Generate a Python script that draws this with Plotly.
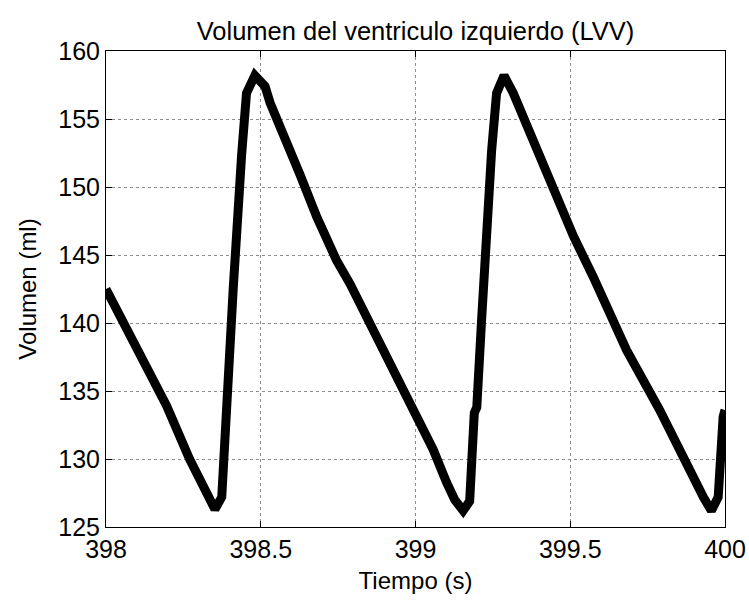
import plotly.graph_objects as go

# Left-ventricular volume trace
tiempo = [
    398.000, 398.088, 398.196, 398.270, 398.325, 398.352, 398.374, 398.386,
    398.394, 398.411, 398.438, 398.454, 398.481, 398.514, 398.530, 398.573,
    398.627, 398.681, 398.745, 398.788, 398.842, 398.896, 398.950, 399.004,
    399.057, 399.100, 399.127, 399.154, 399.175, 399.190, 399.198, 399.213,
    399.231, 399.246, 399.262, 399.286, 399.316, 399.364, 399.445, 399.510,
    399.574, 399.682, 399.789, 399.897, 399.930, 399.956, 399.978, 399.994,
    400.000,
]
volumen = [
    142.5, 138.5, 133.9, 130.0, 127.5, 126.3, 127.2, 133.3,
    133.7, 142.5, 152.3, 156.9, 158.2, 157.4, 156.2, 154.0,
    150.9, 147.8, 144.6, 142.9, 140.5, 137.8, 135.6, 133.2,
    130.7, 128.3, 127.0, 126.2, 126.9, 133.4, 133.8, 140.0,
    147.8, 152.7, 156.9, 158.2, 156.9, 154.3, 149.8, 146.4,
    143.4, 138.0, 133.6, 128.5, 127.2, 126.2, 127.2, 133.1,
    133.6,
]

x_ticks = [398, 398.5, 399, 399.5, 400]
x_tick_labels = ["398", "398.5", "399", "399.5", "400"]
y_ticks = [125, 130, 135, 140, 145, 150, 155, 160]

FONT = "Liberation Sans, Arial, sans-serif"

fig = go.Figure()
fig.add_trace(
    go.Scatter(
        x=tiempo,
        y=volumen,
        mode="lines",
        line=dict(color="black", width=9),
        showlegend=False,
    )
)

axis_style = dict(
    automargin=False,
    showline=True,
    linecolor="black",
    linewidth=1,
    mirror="ticks",
    ticks="inside",
    ticklen=6,
    tickcolor="black",
    showgrid=True,
    gridcolor="#8c8c8c",
    griddash="dot",
    gridwidth=1,
    zeroline=False,
    tickfont=dict(size=25, color="black", family=FONT),
)

fig.update_xaxes(
    range=[398, 400],
    tickvals=x_ticks,
    ticktext=x_tick_labels,
    title=dict(text="Tiempo (s)", font=dict(size=24, color="black", family=FONT), standoff=10),
    **axis_style,
)
fig.update_yaxes(
    range=[125, 160],
    tickvals=y_ticks,
    title=dict(text="Volumen (ml)", font=dict(size=24, color="black", family=FONT), standoff=14),
    **axis_style,
)

fig.update_layout(
    width=749,
    height=602,
    margin=dict(l=106, r=24, t=51, b=75),
    paper_bgcolor="white",
    plot_bgcolor="white",
    title=dict(
        text="Volumen del ventriculo izquierdo (LVV)",
        x=0.5,
        xref="paper",
        y=0.948,
        yref="container",
        yanchor="middle",
        font=dict(size=25.5, color="black", family=FONT),
    ),
)

# drop the page's default 8px body margin so the figure sits at the corner
fig.write_html(
    "out.html",
    config={"displayModeBar": False},
    post_script="document.body.style.margin='0';",
)
